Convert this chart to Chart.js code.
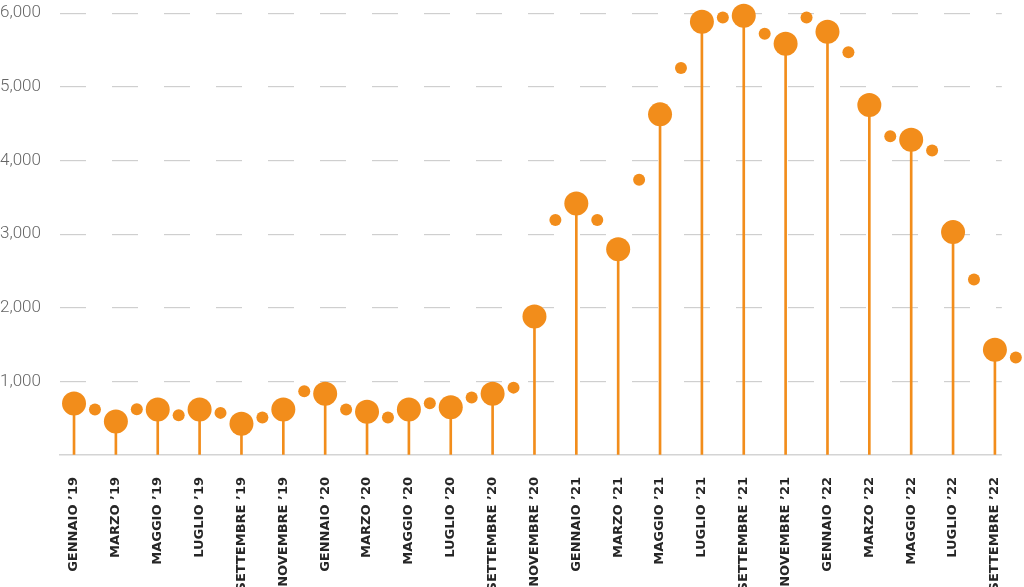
<!DOCTYPE html>
<html>
<head>
<meta charset="utf-8">
<script src="https://cdn.jsdelivr.net/npm/chart.js@4"></script>
<style>
  html, body { margin: 0; padding: 0; background: #fff; }
  #wrap { width: 1024px; height: 587px; position: relative; }
</style>
</head>
<body>
<div id="wrap"><canvas id="chart"></canvas></div>
<script>
// one entry per month, Jan '19 .. Oct '22
const months = [
  'GENNAIO ’19', 'FEBBRAIO ’19', 'MARZO ’19', 'APRILE ’19', 'MAGGIO ’19', 'GIUGNO ’19',
  'LUGLIO ’19', 'AGOSTO ’19', 'SETTEMBRE ’19', 'OTTOBRE ’19', 'NOVEMBRE ’19', 'DICEMBRE ’19',
  'GENNAIO ’20', 'FEBBRAIO ’20', 'MARZO ’20', 'APRILE ’20', 'MAGGIO ’20', 'GIUGNO ’20',
  'LUGLIO ’20', 'AGOSTO ’20', 'SETTEMBRE ’20', 'OTTOBRE ’20', 'NOVEMBRE ’20', 'DICEMBRE ’20',
  'GENNAIO ’21', 'FEBBRAIO ’21', 'MARZO ’21', 'APRILE ’21', 'MAGGIO ’21', 'GIUGNO ’21',
  'LUGLIO ’21', 'AGOSTO ’21', 'SETTEMBRE ’21', 'OTTOBRE ’21', 'NOVEMBRE ’21', 'DICEMBRE ’21',
  'GENNAIO ’22', 'FEBBRAIO ’22', 'MARZO ’22', 'APRILE ’22', 'MAGGIO ’22', 'GIUGNO ’22',
  'LUGLIO ’22', 'AGOSTO ’22', 'SETTEMBRE ’22', 'OTTOBRE ’22'
];
const values = [
  700, 618, 455, 621, 617, 540,
  617, 572, 423, 509, 617, 865,
  833, 617, 586, 509, 617, 703,
  649, 780, 833, 915, 1882, 3193,
  3415, 3193, 2793, 3739, 4626, 5257,
  5883, 5942, 5964, 5720, 5585, 5942,
  5747, 5469, 4753, 4329, 4280, 4135,
  3027, 2383, 1428, 1324
];
const yTicks = [0, 1000, 2000, 3000, 4000, 5000, 6000];

const orange = '#f28d1b';

// every other month (Jan, Mar, May...) gets a big dot, a stem and a label
const points = values.map((v, i) => ({ x: i, y: v }));
const stems = points.filter(p => p.x % 2 === 0);
const radii = values.map((v, i) => (i % 2 === 0 ? 12 : 6));
const labelIdx = months.map((m, i) => i).filter(i => i % 2 === 0);

// grid and axis line stop a bit after the last labelled month,
// the last small dot sits past them
const gridEnd = 44.33;
const trimGrid = {
  id: 'trimGrid',
  beforeDatasetsDraw(chart) {
    const { ctx, chartArea } = chart;
    const xEnd = chart.scales.x.getPixelForValue(gridEnd);
    ctx.save();
    ctx.fillStyle = '#fff';
    ctx.fillRect(xEnd, chartArea.top - 3, chartArea.right - xEnd + 2, chartArea.bottom - chartArea.top + 6);
    ctx.restore();
  }
};

const ctx = document.getElementById('chart').getContext('2d');
const chart = new Chart(ctx, {
  data: {
    datasets: [
      {
        type: 'scatter',
        data: points,
        pointRadius: radii,
        pointHoverRadius: radii,
        backgroundColor: orange,
        borderWidth: 0,
        clip: false,
        order: 0
      },
      {
        type: 'bar',
        data: stems,
        backgroundColor: orange,
        barThickness: 2,
        clip: false,
        order: 1
      }
    ]
  },
  options: {
    responsive: true,
    maintainAspectRatio: false,
    animation: false,
    layout: { autoPadding: false, padding: { top: 10, right: 0, left: 0, bottom: 0 } },
    plugins: {
      legend: { display: false },
      tooltip: { enabled: false }
    },
    scales: {
      x: {
        type: 'linear',
        min: -0.67,
        max: 45.39,
        offset: false,
        afterBuildTicks: s => { s.ticks = labelIdx.map(i => ({ value: i })); },
        afterFit: s => {
          s.height = 132;
          s.paddingLeft = 0;
          s.paddingRight = 0;
        },
        grid: { display: false, drawTicks: false, offset: false },
        border: { color: '#d4d4d4', width: 1.5 },
        ticks: {
          autoSkip: false,
          minRotation: 90,
          maxRotation: 90,
          padding: 22,
          color: '#262626',
          font: { family: 'DejaVu Sans', size: 13, weight: 'bold' },
          callback: v => months[v]
        }
      },
      y: {
        min: 0,
        max: 6000,
        afterBuildTicks: s => { s.ticks = yTicks.map(v => ({ value: v })); },
        afterFit: s => { s.width = 60; },
        grid: {
          color: c => (c.tick && c.tick.value === 0 ? 'rgba(0,0,0,0)' : '#cfcfcf'),
          lineWidth: 1.2,
          drawTicks: false
        },
        border: { display: false, dash: [26, 26] },
        ticks: {
          crossAlign: 'far',
          color: '#666666',
          font: { family: 'Roboto', size: 17, weight: '300' },
          callback: v => (v === 0 ? '' : v.toLocaleString('en-US'))
        }
      }
    }
  },
  plugins: [trimGrid]
});
</script>
</body>
</html>
